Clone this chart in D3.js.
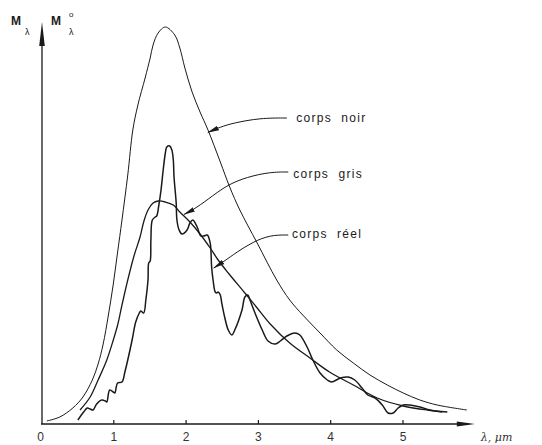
<!DOCTYPE html>
<html><head><meta charset="utf-8">
<script src="https://cdn.jsdelivr.net/npm/d3@7"></script>
<style>html,body{margin:0;padding:0;background:#fff}svg{display:block}</style>
</head><body>
<svg id="chart" width="542" height="445"></svg>
<script>
// ---- data (wavelength in µm, relative spectral exitance) ----
const xTicks = [0, 1, 2, 3, 4, 5];
const blackX = [0.08,0.26,0.44,0.58,0.71,0.79,0.86,0.93,1.00,1.06,1.12,1.20,1.27,1.34,1.44,1.51,1.55,1.62,1.72,1.85,1.92,1.99,2.09,2.20,2.31,2.48,2.61,2.75,2.99,3.26,3.44,3.62,3.86,4.09,4.32,4.55,4.79,5.01,5.24,5.48,5.89];
const blackY = [0.75,1.75,4,6.75,11,15,20,27,35,43,51,62.25,73.5,79.75,86.5,91.5,94.75,97.75,99.25,97.25,94,89,83,78,73.5,65.5,59.25,53.5,45.25,36,31,27.25,22.75,18.5,15.25,12.25,9.75,7.75,6,4.75,3.5];
const greyX = [0.54,0.68,0.79,0.91,1.00,1.06,1.12,1.20,1.29,1.37,1.42,1.48,1.55,1.62,1.72,1.83,1.92,2.06,2.20,2.34,2.45,2.59,2.82,2.99,3.17,3.44,3.72,3.99,4.32,4.65,5.01,5.34,5.62];
const greyY = [3.5,6.75,11,16,21,24.75,29.75,36,42.25,46.75,50.5,53.5,55.25,55.75,55.5,54.75,53,50.5,47.5,44,41,37.75,32.75,29,25,20.25,16.5,13,9.75,6.5,4.5,3.5,3];
const realX = [0.51,0.59,0.64,0.68,0.72,0.77,0.84,0.89,0.91,0.95,1.00,1.02,1.06,1.12,1.16,1.20,1.26,1.31,1.36,1.38,1.42,1.45,1.48,1.49,1.51,1.52,1.54,1.58,1.60,1.63,1.66,1.69,1.72,1.74,1.78,1.81,1.83,1.84,1.87,1.88,1.91,1.95,2.02,2.06,2.10,2.16,2.21,2.25,2.30,2.34,2.35,2.36,2.38,2.41,2.43,2.45,2.48,2.50,2.54,2.59,2.64,2.68,2.78,2.82,2.86,2.89,2.96,3.06,3.14,3.24,3.31,3.40,3.51,3.58,3.68,3.76,3.86,3.96,4.02,4.14,4.25,4.34,4.44,4.52,4.62,4.72,4.80,4.87,4.94,5.01,5.10,5.24,5.38,5.55];
const realY = [1,3,4,3.75,3.5,5,6,5.75,5.5,8.5,8,7.75,10.25,10.5,13,16,21,25.5,27.75,28.25,27.75,31,36,40.25,40.75,46,51,51.75,52,54.75,58.5,63.5,67.75,69.25,69.5,68.5,66,61.75,55.25,51,48.5,47.5,48.5,50.25,51,49.25,47,47,47.25,45.25,43.5,39.25,36,33,32.75,33,32.25,30.25,26.75,23.5,22.25,23.5,28.5,31.75,32.25,31,27.75,23.5,20.75,20,20.75,22,22.75,22.25,19.25,16,12.75,11,10.5,11.5,11.75,11,9,7.25,6.5,4.75,2.75,2.75,4,4.75,4.75,4.25,3.5,3];
const labels = ["corps  noir", "corps  gris", "corps  réel"];
// leader lines (data coordinates), last point = arrow tip
const noirLeaderX = [3.40,3.03,2.66,2.48,2.31];
const noirLeaderY = [76.5,76.5,75.25,74.25,72.9];
const grisLeaderX = [3.42,3.17,2.85,2.57,2.30,2.10,1.98];
const grisLeaderY = [63,63,61.75,59.75,56,53.5,52.4];
const reelLeaderX = [3.42,3.17,2.93,2.71,2.52,2.39];
const reelLeaderY = [47.25,47.25,45.5,43,40.5,39];
const labelX = [3.53, 3.49, 3.47];
const labelY = [76.5, 62.5, 47.5];

// ---- scales ----
const svg = d3.select("#chart");
const x = d3.scaleLinear().domain([0, 6]).range([41, 41 + 6 * 72.3]);
const y = d3.scaleLinear().domain([0, 100]).range([424, 24]);
const ink = "#1a1a1a";
const zip = (a, b) => a.map((v, i) => [v, b[i]]);

// arrow marker for leaders
const defs = svg.append("defs");
defs.append("marker").attr("id", "ah").attr("viewBox", "0 0 12 6")
  .attr("refX", 11).attr("refY", 3).attr("markerWidth", 12).attr("markerHeight", 6)
  .attr("markerUnits", "userSpaceOnUse").attr("orient", "auto")
  .append("path").attr("d", "M0,0.6 L12,3 L0,5.4 Z").attr("fill", ink);

// ---- axes ----
const xAxis = d3.axisBottom(x).tickValues(xTicks).tickSize(-4).tickSizeOuter(0).tickPadding(8)
  .tickFormat(d3.format("d"));
const gx = svg.append("g").attr("transform", `translate(0,${y(0)})`).call(xAxis);
gx.select(".domain").remove();
gx.selectAll(".tick line").attr("stroke", ink).attr("stroke-width", 1.2)
  .filter(d => d === 0).remove();
gx.selectAll(".tick text").attr("fill", "#333").attr("font-family", "Liberation Sans, Arial, sans-serif")
  .attr("font-size", 12);
gx.selectAll(".tick").filter(d => d === 0).select("text").attr("dx", "-1");

svg.append("line").attr("x1", x(0)).attr("x2", x(6) - 6).attr("y1", y(0)).attr("y2", y(0))
  .attr("stroke", ink).attr("stroke-width", 1.4);
svg.append("path").attr("d", `M${x(6)},${y(0)} L${x(6) - 18},${y(0) - 2.6} L${x(6) - 18},${y(0) + 2.6} Z`).attr("fill", ink);
svg.append("line").attr("x1", x(0) + 1).attr("x2", x(0) + 1).attr("y1", y(0)).attr("y2", y(100) + 6)
  .attr("stroke", ink).attr("stroke-width", 1.3);
svg.append("path").attr("d", `M${x(0) + 1},${y(100) - 2} L${x(0) - 1.8},${y(100) + 22} L${x(0) + 3.8},${y(100) + 22} Z`).attr("fill", ink);

// axis titles
const font = "Liberation Sans, Arial, sans-serif";
svg.append("text").attr("x", 11).attr("y", 25).attr("font-family", font).attr("font-weight", "bold")
  .attr("font-size", 12).attr("fill", ink).text("M");
svg.append("text").attr("x", 25).attr("y", 35).attr("font-family", font).attr("font-size", 9).attr("fill", ink).text("λ");
svg.append("text").attr("x", 51).attr("y", 25).attr("font-family", font).attr("font-weight", "bold")
  .attr("font-size", 12).attr("fill", ink).text("M");
svg.append("text").attr("x", 69).attr("y", 17).attr("font-family", font).attr("font-size", 8).attr("fill", ink).text("o");
svg.append("text").attr("x", 69).attr("y", 35).attr("font-family", font).attr("font-size", 9).attr("fill", ink).text("λ");
svg.append("text").attr("x", x(6) + 6).attr("y", y(0) + 17).attr("font-family", "DejaVu Serif, serif")
  .attr("font-style", "italic").attr("font-size", 11).attr("fill", "#333").text("λ, μm");

// ---- curves ----
const line = d3.line().x(d => x(d[0])).y(d => y(d[1])).curve(d3.curveCatmullRom.alpha(0.5));
svg.append("path").datum(zip(blackX, blackY)).attr("d", line).attr("fill", "none")
  .attr("stroke", ink).attr("stroke-width", 1);
svg.append("path").datum(zip(greyX, greyY)).attr("d", line).attr("fill", "none")
  .attr("stroke", ink).attr("stroke-width", 1.3);
svg.append("path").datum(zip(realX, realY)).attr("d", line).attr("fill", "none")
  .attr("stroke", ink).attr("stroke-width", 1.5).attr("stroke-linejoin", "round");

// ---- leaders & labels ----
const leader = d3.line().x(d => x(d[0])).y(d => y(d[1])).curve(d3.curveBasis);
[[noirLeaderX, noirLeaderY], [grisLeaderX, grisLeaderY], [reelLeaderX, reelLeaderY]].forEach(([lx, ly]) => {
  svg.append("path").datum(zip(lx, ly)).attr("d", leader).attr("fill", "none")
    .attr("stroke", ink).attr("stroke-width", 1).attr("marker-end", "url(#ah)");
});
labels.forEach((t, i) => {
  svg.append("text").attr("x", x(labelX[i])).attr("y", y(labelY[i])).attr("dy", "0.35em")
    .attr("font-family", font).attr("font-size", 12).attr("letter-spacing", 1.3)
    .attr("fill", ink).attr("xml:space", "preserve").style("white-space", "pre").text(t);
});
</script>
</body></html>
